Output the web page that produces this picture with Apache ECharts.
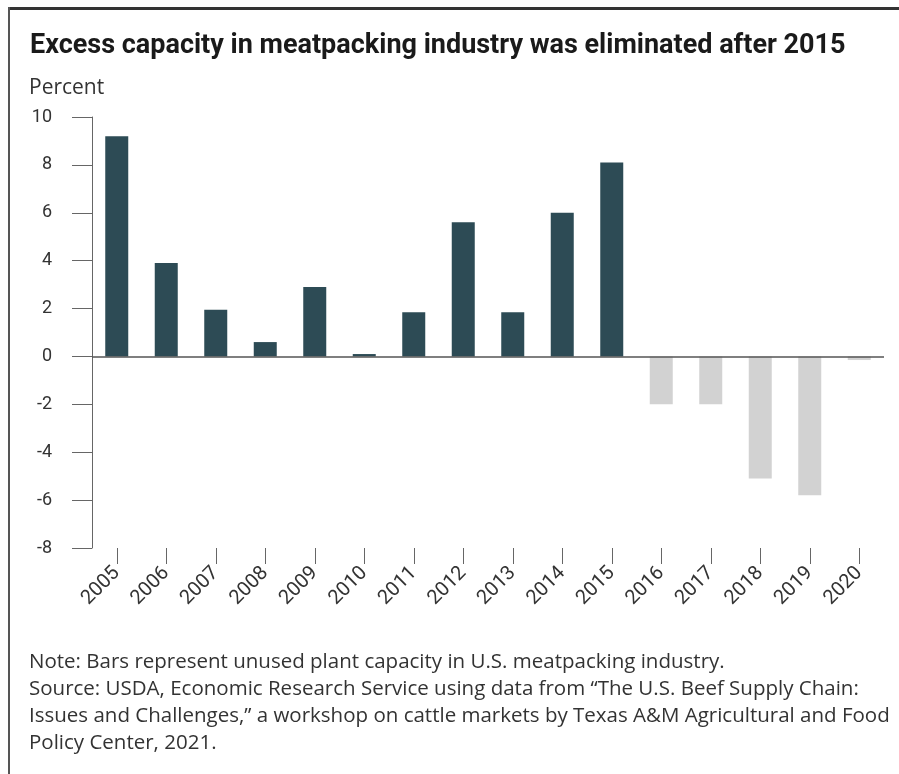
<!DOCTYPE html>
<html>
<head>
<meta charset="utf-8">
<script src="https://cdn.jsdelivr.net/npm/echarts@6/dist/echarts.min.js"></script>
<style>
html,body{margin:0;padding:0;background:#fff;}
#chart{width:899px;height:774px;}
</style>
</head>
<body>
<div id="chart"></div>
<script>
const years = ['2005','2006','2007','2008','2009','2010','2011','2012','2013','2014','2015','2016','2017','2018','2019','2020'];
const unusedCapacity = [9.2, 3.9, 1.95, 0.6, 2.9, 0.1, 1.85, 5.6, 1.85, 6.0, 8.1, -2.0, -2.0, -5.1, -5.8, -0.15];
const yTicks = { min: -8, max: 10, interval: 2 };
const titleText = 'Excess capacity in meatpacking industry was eliminated after 2015';
const unitText = 'Percent';
const noteLines = [
  'Note: Bars represent unused plant capacity in U.S. meatpacking industry.',
  'Source: USDA, Economic Research Service using data from \u201CThe U.S. Beef Supply Chain:',
  'Issues and Challenges,\u201D a workshop on cattle markets by Texas A&M Agricultural and Food',
  'Policy Center, 2021.'
];

const POS = '#2d4b55', NEG = '#d2d2d2';
const chart = echarts.init(document.getElementById('chart'));
const FONT = 'Roboto';
const FONT2 = 'Open Sans';

chart.setOption({
  backgroundColor: '#fff',
  animation: false,
  title: [
    { text: titleText, left: 25, top: 28,
      textStyle: { fontFamily: FONT, fontSize: 27, fontWeight: 'bold', color: '#1a1a1a' } },
    { text: unitText, left: 24, top: 73,
      textStyle: { fontFamily: FONT2, fontSize: 21, fontWeight: 'normal', color: '#333' } }
  ],
  graphic: [
    { type: 'rect', left: 8, top: 7, shape: { width: 891, height: 3 }, style: { fill: '#333' } },
    { type: 'rect', left: 8, top: 7, shape: { width: 2, height: 767 }, style: { fill: '#555' } },
    { type: 'group', left: 29, top: 652, children: noteLines.map((t, i) => ({
        type: 'text', x: 0, y: i * 27,
        style: { text: t, fontFamily: FONT2, fontSize: 20.5, fill: '#333' }
      })) }
  ],
  grid: { left: 92, right: 15, top: 117, bottom: 226, containLabel: false },
  xAxis: {
    type: 'category', data: years, position: 'bottom',
    axisLine: { show: false, onZero: false },
    axisTick: { show: true, alignWithLabel: true, length: 16, lineStyle: { color: '#666', width: 1 } },
    axisLabel: { rotate: 45, margin: 22, fontFamily: FONT, fontSize: 20, color: '#333' },
    splitLine: { show: false }
  },
  yAxis: {
    type: 'value', min: yTicks.min, max: yTicks.max, interval: yTicks.interval,
    axisLine: { show: true, lineStyle: { color: '#666', width: 1 } },
    axisTick: { show: true, length: 20, lineStyle: { color: '#666', width: 1 } },
    axisLabel: { margin: 40, fontFamily: FONT, fontSize: 18, color: '#333' },
    splitLine: { show: false }
  },
  series: [{
    type: 'bar', barWidth: 23,
    data: unusedCapacity.map(v => ({ value: v, itemStyle: { color: v >= 0 ? POS : NEG } })),
    markLine: {
      silent: true, symbol: 'none', label: { show: false },
      lineStyle: { color: '#555', width: 1.5, type: 'solid' },
      data: [{ yAxis: 0 }]
    }
  }]
});
</script>
</body>
</html>
